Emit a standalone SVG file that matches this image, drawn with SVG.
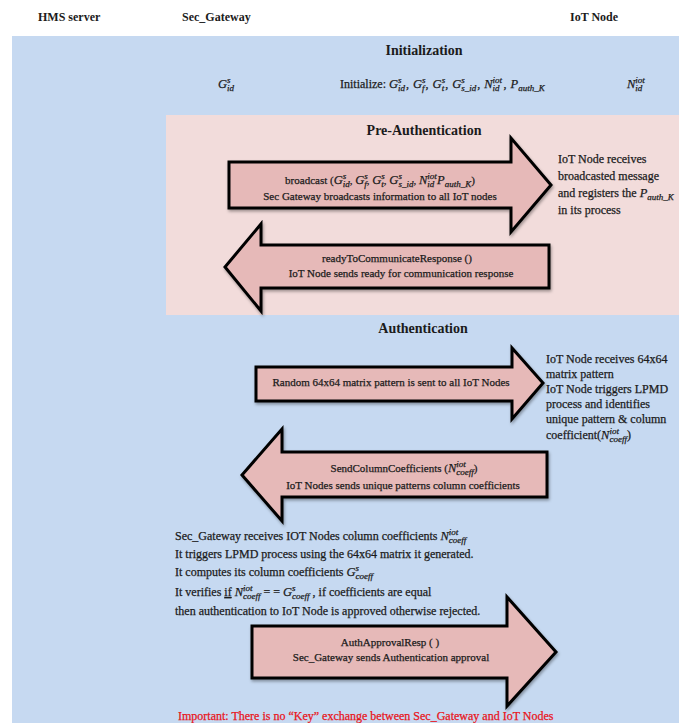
<svg xmlns="http://www.w3.org/2000/svg" width="679" height="723" viewBox="0 0 679 723">
<style>
text{font-family:"Liberation Serif","Times New Roman",serif;fill:#1b1b1b;stroke:#1b1b1b;stroke-width:0.25}
.hdr{font-size:12px;font-weight:bold;stroke-width:0}
.title{font-size:14px;font-weight:bold;stroke-width:0}
.t{font-size:11px}
.init{font-size:12px}
.side{font-size:12px}
.para{font-size:12px}
.mi{font-style:italic;font-size:12.5px}
.s{font-size:9px;font-style:italic}
.red{fill:#e8141a;stroke:#e8141a;font-size:12px}
.arrow{fill:#e6b9b8;stroke:#000;stroke-width:3;stroke-linejoin:miter}
</style>
<defs>
<filter id="sh" x="-10%" y="-10%" width="120%" height="130%">
<feDropShadow dx="1" dy="2" stdDeviation="1.5" flood-color="#000" flood-opacity="0.35"/>
</filter>
</defs>
<rect x="0" y="0" width="679" height="723" fill="#ffffff"/>
<rect x="12" y="36" width="667" height="687" fill="#c6d9f1"/>
<rect x="166" y="115" width="513" height="200" fill="#f2dcdb"/>

<g id="headers">
<text class="hdr" x="38" y="21">HMS server</text>
<text class="hdr" x="182" y="21">Sec_Gateway</text>
<text class="hdr" x="570" y="21">IoT Node</text>
</g>

<g id="initialization">
<text class="title" x="424" y="55" text-anchor="middle">Initialization</text>
<text class="t" x="218" y="88"><tspan class="mi">G</tspan><tspan class="s" dy="-5">s</tspan><tspan class="s" dx="-3.5" dy="8">id</tspan></text>
<text class="init" x="340" y="88">Initialize: <tspan class="mi">G</tspan><tspan class="s" dy="-5">s</tspan><tspan class="s" dx="-3.5" dy="8">id</tspan><tspan dx="1" dy="-3">, </tspan><tspan class="mi" dx="1">G</tspan><tspan class="s" dy="-5">s</tspan><tspan class="s" dx="-3.5" dy="8">f</tspan><tspan dx="1" dy="-3">, </tspan><tspan class="mi" dx="1">G</tspan><tspan class="s" dy="-5">s</tspan><tspan class="s" dx="-3.5" dy="8">t</tspan><tspan dx="1" dy="-3">, </tspan><tspan class="mi" dx="1">G</tspan><tspan class="s" dy="-5">s</tspan><tspan class="s" dx="-3.5" dy="8">s_id</tspan><tspan dx="1" dy="-3">, </tspan><tspan class="mi" dx="1">N</tspan><tspan class="s" dy="-5">iot</tspan><tspan class="s" dx="-9.5" dy="8">id</tspan><tspan dx="1" dy="-3"> , </tspan><tspan class="mi" dx="1">P</tspan><tspan class="s" dy="3">auth_K</tspan></text>
<text class="t" x="627" y="88"><tspan class="mi">N</tspan><tspan class="s" dy="-5">iot</tspan><tspan class="s" dx="-9.5" dy="8">id</tspan></text>
</g>

<g id="pre-authentication">
<text class="title" x="424" y="135" text-anchor="middle">Pre-Authentication</text>
</g>

<g id="connectors">
<path id="broadcast-arrow" class="arrow" filter="url(#sh)" d="M229,162 H511 V138 L551,185 L511,232 V208 H229 Z"/>
<path id="ready-arrow" class="arrow" filter="url(#sh)" d="M549,245 H261 V224 L225,267 L261,311 V288 H549 Z"/>
<path id="random-arrow" class="arrow" filter="url(#sh)" d="M256,367 H512 V348 L543,383 L512,419 V401 H256 Z"/>
<path id="coeff-arrow" class="arrow" filter="url(#sh)" d="M547,452 H282 V429 L242,475 L282,521 V497 H547 Z"/>
<path id="approval-arrow" class="arrow" filter="url(#sh)" d="M252,626 H507 V597 L556,652 L507,706 V678 H252 Z"/>
</g>

<g id="broadcast-label">
<text class="t" x="380" y="184" text-anchor="middle">broadcast (<tspan class="mi">G</tspan><tspan class="s" dy="-5">s</tspan><tspan class="s" dx="-3.5" dy="8">id</tspan><tspan dy="-3">, </tspan><tspan class="mi">G</tspan><tspan class="s" dy="-5">s</tspan><tspan class="s" dx="-3.5" dy="8">f</tspan><tspan dy="-3">, </tspan><tspan class="mi">G</tspan><tspan class="s" dy="-5">s</tspan><tspan class="s" dx="-3.5" dy="8">t</tspan><tspan dy="-3">, </tspan><tspan class="mi">G</tspan><tspan class="s" dy="-5">s</tspan><tspan class="s" dx="-3.5" dy="8">s_id</tspan><tspan dy="-3">, </tspan><tspan class="mi">N</tspan><tspan class="s" dy="-5">iot</tspan><tspan class="s" dx="-9.5" dy="8">id</tspan><tspan dy="-3"> </tspan><tspan class="mi">P</tspan><tspan class="s" dy="3">auth_K</tspan><tspan dy="-3">)</tspan></text>
<text class="t" x="380" y="200" text-anchor="middle">Sec  Gateway broadcasts information to all IoT nodes</text>
</g>

<g id="iot-receives-broadcast">
<text class="side" x="558" y="163">IoT Node receives</text>
<text class="side" x="558" y="180">broadcasted  message</text>
<text class="side" x="558" y="197">and registers the <tspan class="mi">P</tspan><tspan class="s" dy="3">auth_K</tspan></text>
<text class="side" x="558" y="214">in its process</text>
</g>

<g id="ready-label">
<text class="t" x="397" y="262" text-anchor="middle">readyToCommunicateResponse ()</text>
<text class="t" x="401" y="277" text-anchor="middle">IoT Node sends ready for communication response</text>
</g>

<g id="authentication">
<text class="title" x="423" y="333" text-anchor="middle">Authentication</text>
</g>

<g id="random-label">
<text class="t" x="391" y="386" text-anchor="middle">Random 64x64  matrix pattern is sent to all IoT Nodes</text>
</g>

<g id="iot-receives-matrix">
<text class="side" x="546" y="363">IoT Node receives  64x64</text>
<text class="side" x="546" y="378">matrix  pattern</text>
<text class="side" x="546" y="393">IoT Node triggers  LPMD</text>
<text class="side" x="546" y="408">process and identifies</text>
<text class="side" x="546" y="423">unique pattern &amp; column</text>
<text class="side" x="546" y="439">coefficient(<tspan class="mi">N</tspan><tspan class="s" dy="-5">iot</tspan><tspan class="s" dx="-9.5" dy="8">coeff</tspan><tspan dy="-3">)</tspan></text>
</g>

<g id="coeff-label">
<text class="t" x="404" y="472" text-anchor="middle">SendColumnCoefficients (<tspan class="mi">N</tspan><tspan class="s" dy="-5">iot</tspan><tspan class="s" dx="-9.5" dy="8">coeff</tspan><tspan dy="-3">)</tspan></text>
<text class="t" x="403" y="489" text-anchor="middle">IoT Nodes sends unique patterns column coefficients</text>
</g>

<g id="gateway-verify">
<text class="para" x="175" y="540">Sec_Gateway receives IOT Nodes column  coefficients <tspan class="mi">N</tspan><tspan class="s" dy="-5">iot</tspan><tspan class="s" dx="-9.5" dy="8">coeff</tspan></text>
<text class="para" x="175" y="558">It triggers  LPMD  process using the 64x64 matrix  it generated.</text>
<text class="para" x="175" y="576">It computes its column coefficients <tspan class="mi">G</tspan><tspan class="s" dy="-5">s</tspan><tspan class="s" dx="-3.5" dy="8">coeff</tspan></text>
<text class="para" x="175" y="596">It verifies <tspan text-decoration="underline">if</tspan> <tspan class="mi">N</tspan><tspan class="s" dy="-5">iot</tspan><tspan class="s" dx="-9.5" dy="8">coeff</tspan><tspan dy="-3"> = =  </tspan><tspan class="mi">G</tspan><tspan class="s" dy="-5">s</tspan><tspan class="s" dx="-3.5" dy="8">coeff</tspan><tspan dy="-3"> , if coefficients are equal</tspan></text>
<text class="para" x="175" y="615">then authentication  to IoT Node is approved  otherwise  rejected.</text>
</g>

<g id="approval-label">
<text class="t" x="390" y="646" text-anchor="middle">AuthApprovalResp ( )</text>
<text class="t" x="391" y="661" text-anchor="middle">Sec_Gateway sends Authentication approval</text>
</g>

<g id="note">
<text class="red" x="178" y="720">Important: There is no “Key”  exchange between Sec_Gateway  and IoT Nodes</text>
</g>
</svg>
